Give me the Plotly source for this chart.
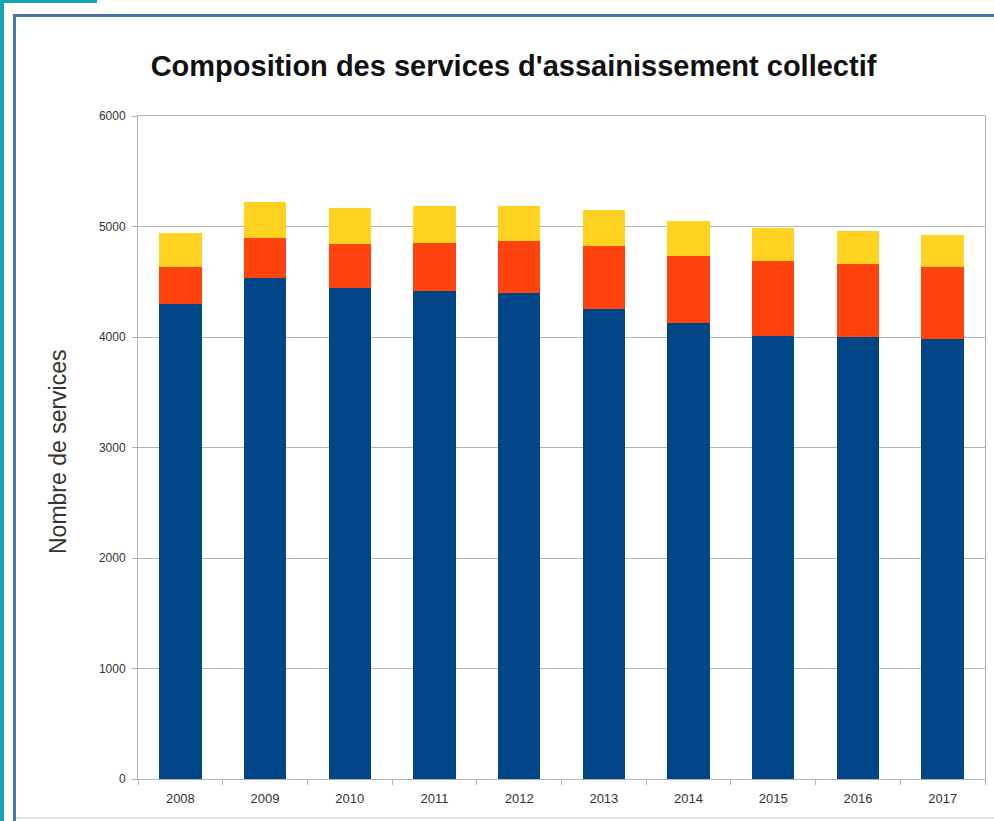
import plotly.graph_objects as go

# Years on the category axis
years = ["2008", "2009", "2010", "2011", "2012", "2013", "2014", "2015", "2016", "2017"]

# Number of services per component (stacked)
serie_1 = [4300, 4530, 4440, 4420, 4400, 4250, 4130, 4010, 4000, 3980]
serie_2 = [330, 370, 405, 435, 470, 570, 600, 680, 660, 650]
serie_3 = [310, 325, 320, 330, 320, 330, 320, 295, 295, 295]

y_ticks = [0, 1000, 2000, 3000, 4000, 5000, 6000]

W, H = 994, 821
L, R, T, B = 138, 9, 116, 42
PW, PH = W - L - R, H - T - B


def px(x):
    return (x - L) / PW


def py(y):
    return (H - B - y) / PH


fig = go.Figure()
for name, vals, col in [
    ("Série 1", serie_1, "#004586"),
    ("Série 2", serie_2, "#ff420e"),
    ("Série 3", serie_3, "#ffd320"),
]:
    fig.add_trace(go.Bar(x=years, y=vals, name=name, marker=dict(color=col, line=dict(width=0))))

shapes = [
    # outer teal accents
    dict(type="rect", xref="paper", yref="paper", x0=px(0), x1=px(97), y0=py(3), y1=py(0),
         fillcolor="#14a3b3", line=dict(width=0), layer="below"),
    dict(type="rect", xref="paper", yref="paper", x0=px(0), x1=px(4), y0=py(H), y1=py(0),
         fillcolor="#14a3b3", line=dict(width=0), layer="below"),
    # inner frame
    dict(type="rect", xref="paper", yref="paper", x0=px(13), x1=px(16), y0=py(H), y1=py(14),
         fillcolor="#4a76a6", line=dict(width=0), layer="below"),
    dict(type="rect", xref="paper", yref="paper", x0=px(13), x1=px(W), y0=py(17), y1=py(14),
         fillcolor="#4a76a6", line=dict(width=0), layer="below"),
    dict(type="line", xref="paper", yref="paper", x0=px(16), x1=px(W), y0=py(818), y1=py(818),
         line=dict(color="#e2e2e2", width=2), layer="below"),
]

fig.update_layout(
    width=W, height=H,
    margin=dict(l=L, r=R, t=T, b=B, autoexpand=False),
    paper_bgcolor="white", plot_bgcolor="white",
    barmode="stack", bargap=0.5, showlegend=False,
    font=dict(family="Liberation Sans, Arial, sans-serif", color="#333333"),
    title=dict(text="<b>Composition des services d'assainissement collectif</b>",
               x=(147 + 880) / 2 / W, xanchor="center", xref="container",
               y=1 - 66 / H, yanchor="middle", yref="container",
               font=dict(size=29, color="#111111")),
    shapes=shapes,
    annotations=[dict(text="Nombre de services", textangle=-90, xref="paper", yref="paper",
                      x=px(58), y=py(452), xanchor="center", yanchor="middle", showarrow=False,
                      font=dict(size=23, color="#333333"))],
    xaxis=dict(type="category", showline=True, linecolor="#b3b3b3", linewidth=1, mirror=True,
               ticks="outside", tickson="boundaries", ticklen=5, tickcolor="#b3b3b3",
               ticklabelstandoff=7,
               tickfont=dict(size=13, color="#333333"), showgrid=False),
    yaxis=dict(range=[0, 6000], tickvals=y_ticks, showline=True, linecolor="#b3b3b3", linewidth=1,
               mirror=True, ticks="outside", ticklen=5, tickcolor="#b3b3b3",
               ticklabelstandoff=4,
               gridcolor="#b3b3b3", gridwidth=1, zeroline=False,
               tickfont=dict(size=12, color="#333333")),
)

fig.write_html("out.html")
